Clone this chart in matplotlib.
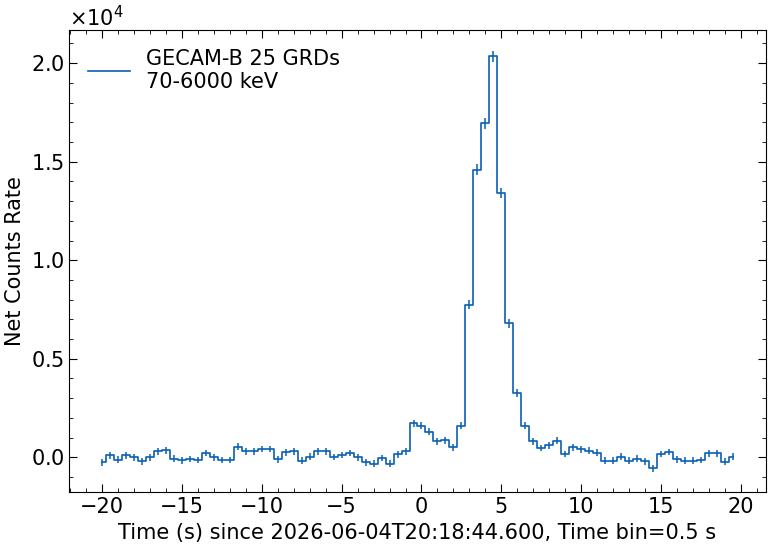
import matplotlib
matplotlib.use("Agg")
import matplotlib.pyplot as plt
from matplotlib.ticker import AutoMinorLocator
import numpy as np

# bin centres, 0.5 s bins
time = np.arange(-20.0, 20.0, 0.5)

rate = [-250, 100, -117, 100, 0, -200, 0, 300, 350, -67,
        -150, -83, -133, 217, 0, -133, -133, 533, 300, 300,
        417, 417, -100, 250, 300, -167, 33, 300, 300, 17,
        117, 217, 0, -267, -333, -33, -333, 150, 300, 1717,
        1600, 1300, 800, 850, 500, 1600, 7750, 14600, 16950, 20350,
        13400, 6800, 3250, 1600, 800, 467, 600, 833, 167, 500,
        400, 333, 233, -167, -167, 33, -167, -67, -200, -567,
        167, 267, -100, -167, -167, -133, 200, 200, -233, 33]

rate_err = [170] * 39 + [180, 180, 180, 170, 170, 170, 180, 220, 260, 270, 290,
                         260, 220, 190, 180, 170] + [170] * 25

color = '#0a5fb4'

fig, ax = plt.subplots(figsize=(7.71, 5.47), dpi=100)
ax.step(time, rate, where='mid', color=color, lw=1.2,
        label='GECAM-B 25 GRDs\n70-6000 keV')
ax.errorbar(time, rate, yerr=rate_err, fmt='none', ecolor=color, elinewidth=1.1)

ax.set_xlim(-22.05, 21.55)
ax.set_ylim(-1780, 21680)
ax.set_xlabel('Time (s) since 2026-06-04T20:18:44.600, Time bin=0.5 s', fontsize=15)
ax.set_ylabel('Net Counts Rate', fontsize=15)
ax.ticklabel_format(axis='y', style='sci', scilimits=(0, 0), useMathText=True)
ax.yaxis.get_offset_text().set_fontsize(15)

ax.xaxis.set_minor_locator(AutoMinorLocator(5))
ax.yaxis.set_minor_locator(AutoMinorLocator(5))
ax.tick_params(which='both', direction='in', top=True, right=True, labelsize=15)
ax.tick_params(which='major', length=6)
ax.tick_params(which='minor', length=3)

ax.legend(loc='upper left', frameon=False, fontsize=15, handlelength=2.0)

fig.subplots_adjust(left=0.09, right=0.993, top=0.945, bottom=0.1)
fig.savefig('out.png', dpi=100)
